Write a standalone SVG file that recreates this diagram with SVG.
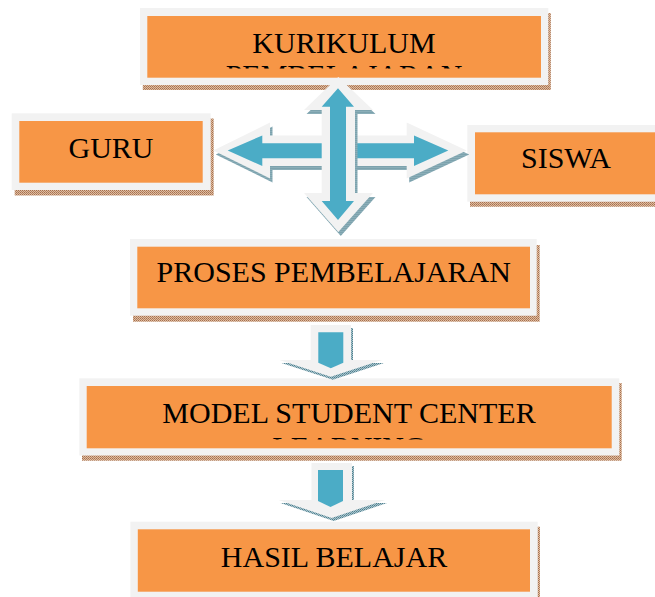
<svg xmlns="http://www.w3.org/2000/svg" width="655" height="597" viewBox="0 0 655 597">
  <defs>
    <pattern id="boxShadePat" width="2" height="2" patternUnits="userSpaceOnUse">
      <rect width="2" height="2" fill="#dcbca4"/>
      <rect width="1" height="1" fill="#a8704c"/>
      <rect x="1" y="1" width="1" height="1" fill="#b8845e"/>
    </pattern>
    <pattern id="arrowShadePat" width="2" height="2" patternUnits="userSpaceOnUse">
      <rect width="2" height="2" fill="#a9c4cc"/>
      <rect width="1" height="1" fill="#4f7f8e"/>
      <rect x="1" y="1" width="1" height="1" fill="#6d97a4"/>
    </pattern>
    <clipPath id="clipK"><rect x="140" y="0" width="410" height="68.5"/></clipPath>
    <clipPath id="clipM"><rect x="80" y="380" width="540" height="59.5"/></clipPath>
  </defs>
  <style>
    .shadow { fill: url(#boxShadePat); }
    .frame { fill: #f2f2f2; }
    .box { fill: #f79646; }
    .lbl { font-family: "Liberation Serif", "Times New Roman", serif; font-size: 30px; fill: #000000; text-anchor: middle; }
    .ashadow { fill: url(#arrowShadePat); }
    .aframe { fill: #f2f2f2; }
    .ablue { fill: #4bacc6; }
  </style>
  <rect width="655" height="597" fill="#ffffff"/>

  <g id="kurikulum">
    <rect class="shadow" x="142.8" y="13" width="408" height="77"/>
    <rect class="frame" x="140" y="8" width="408.3" height="77"/>
    <rect class="box" x="147.3" y="16" width="393.7" height="61.7"/>
    <text class="lbl" x="344" y="53">KURIKULUM</text>
    <text class="lbl" x="344" y="85" clip-path="url(#clipK)">PEMBELAJARAN</text>
  </g>

  <g id="guru">
    <rect class="shadow" x="14.7" y="118.5" width="199" height="77"/>
    <rect class="frame" x="11.7" y="113.3" width="199" height="76.7"/>
    <rect class="box" x="19.3" y="121" width="183.4" height="61.7"/>
    <text class="lbl" x="111" y="158">GURU</text>
  </g>

  <g id="siswa">
    <rect class="shadow" x="470" y="130" width="200" height="76.7"/>
    <rect class="frame" x="467.3" y="125" width="200" height="76.7"/>
    <rect class="box" x="475" y="132.3" width="185" height="62"/>
    <text class="lbl" x="566" y="168">SISWA</text>
  </g>

  <g id="proses">
    <rect class="shadow" x="133" y="245" width="406.7" height="76.7"/>
    <rect class="frame" x="130" y="239" width="406.7" height="76.7"/>
    <rect class="box" x="137.3" y="246.7" width="392.7" height="61.6"/>
    <text class="lbl" x="333.7" y="282">PROSES PEMBELAJARAN</text>
  </g>

  <g id="model">
    <rect class="shadow" x="82" y="383" width="539.7" height="77.7"/>
    <rect class="frame" x="79.3" y="378.3" width="540" height="77.2"/>
    <rect class="box" x="86.7" y="386" width="525" height="62.3"/>
    <text class="lbl" x="349" y="422.7">MODEL STUDENT CENTER</text>
    <text class="lbl" x="349" y="456.5" clip-path="url(#clipM)">LEARNING</text>
  </g>

  <g id="hasil">
    <rect class="shadow" x="133" y="526.7" width="407" height="80"/>
    <rect class="frame" x="130.4" y="521.7" width="407.3" height="80"/>
    <rect class="box" x="137.8" y="529.3" width="392.2" height="62.4"/>
    <text class="lbl" x="334" y="566.7">HASIL BELAJAR</text>
  </g>

  <g id="connectors">
    <!-- horizontal double arrow GURU <-> SISWA -->
    <g id="arrow-horizontal">
      <polygon class="ashadow" transform="translate(2.5,4)" points="213.3,150.5 270,122.5 270,135.5 406.7,135.5 406.7,122.5 466.7,150.5 406.7,178.5 406.7,166 270,166 270,178.5"/>
      <polygon class="aframe" points="213.3,150.5 270,122.5 270,135.5 406.7,135.5 406.7,122.5 466.7,150.5 406.7,178.5 406.7,166 270,166 270,178.5"/>
      <polygon class="ablue" points="227.7,150.5 262.3,135.5 262.3,143.3 414,143.3 414,135.5 448.3,150.5 414,166 414,158.3 262.3,158.3 262.3,166"/>
    </g>
    <!-- vertical double arrow KURIKULUM <-> PROSES -->
    <g id="arrow-vertical">
      <polygon class="ashadow" transform="translate(2.5,4)" points="338.3,77 373,110 355,110 355,193 373,193 338.3,232 304,193 321.7,193 321.7,110 304,110"/>
      <polygon class="aframe" points="338.3,77 373,110 355,110 355,193 373,193 338.3,232 304,193 321.7,193 321.7,110 304,110"/>
      <polygon class="ablue" points="338,88.3 354,106.7 346,106.7 346,201 354,201 338,220 321.7,201 330,201 330,106.7 321.7,106.7"/>
    </g>
    <!-- PROSES -> MODEL -->
    <g id="arrow-proses-model">
      <polygon class="ashadow" transform="translate(2,3)" points="310.7,325 351,325 351,360 382,360 330.8,376.7 279.5,360 310.7,360"/>
      <polygon class="aframe" points="310.7,325 351,325 351,360 382,360 330.8,376.7 279.5,360 310.7,360"/>
      <polygon class="ablue" points="318.3,332.3 343.3,332.3 343.3,362.7 330.8,368.3 318.3,362.7"/>
    </g>
    <!-- MODEL -> HASIL -->
    <g id="arrow-model-hasil">
      <polygon class="ashadow" transform="translate(2,3)" points="311.5,463 352,463 352,500 385,500 331.7,518 278.5,500 311.5,500"/>
      <polygon class="aframe" points="311.5,463 352,463 352,500 385,500 331.7,518 278.5,500 311.5,500"/>
      <polygon class="ablue" points="318,470 343,470 343,501 330.5,507 318,501"/>
    </g>
  </g>
</svg>
